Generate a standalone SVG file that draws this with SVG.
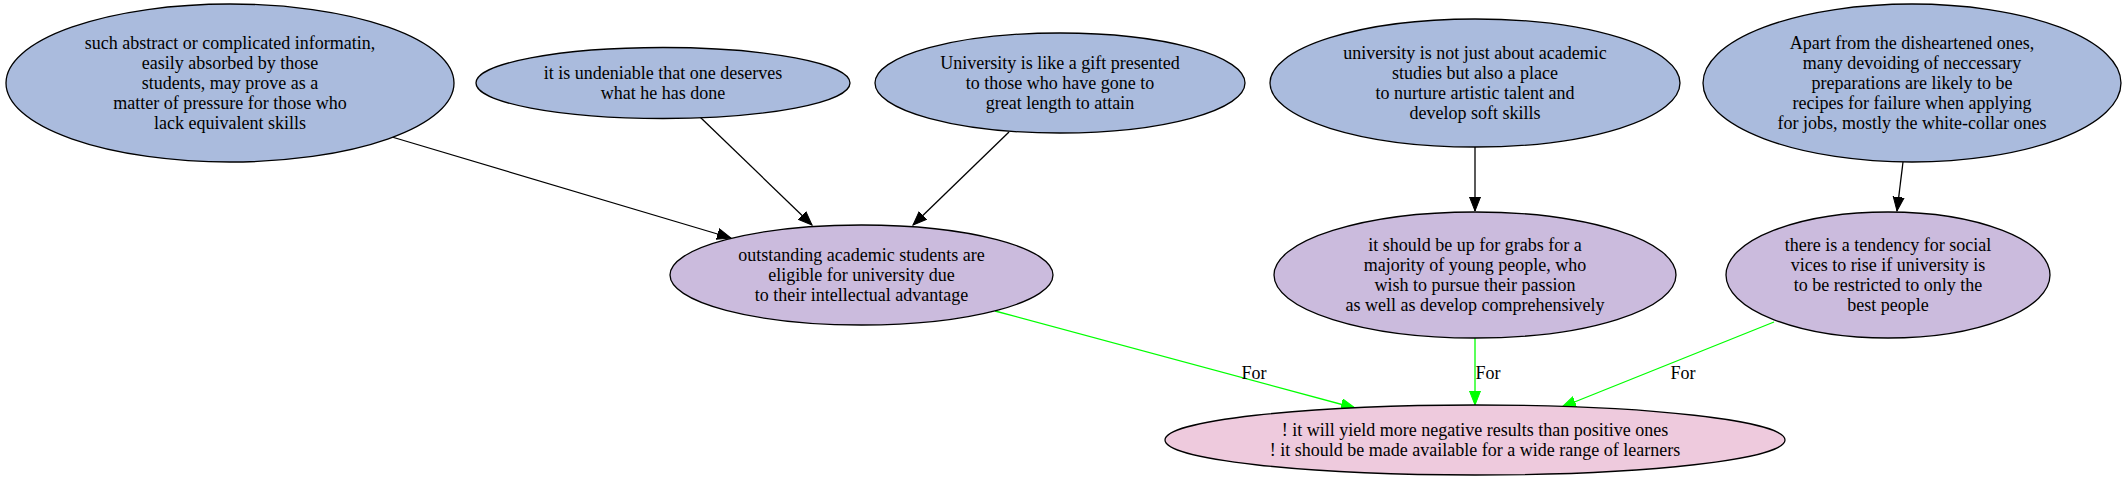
<svg xmlns="http://www.w3.org/2000/svg" width="2126" height="484" viewBox="0 0 2126 484">
<style>
  .n ellipse { stroke: #000; stroke-width: 1.3; }
  .top ellipse { fill: #aabbdd; }
  .mid ellipse { fill: #cbbbdd; }
  .bot ellipse { fill: #eecadd; }
  text { font-family: "Liberation Serif", "Times New Roman", serif; font-size: 18px; fill: #000; text-anchor: middle; }
  .e { fill: none; stroke-width: 1.3; }
  .blk { stroke: #000; }
  .grn { stroke: #00ff00; }
</style>
<defs>
  <marker id="ab" markerUnits="userSpaceOnUse" markerWidth="16" markerHeight="14" refX="14" refY="6" orient="auto">
    <path d="M0,0.5 L14,6 L0,11.5 Z" fill="#000" stroke="#000" stroke-width="1"/>
  </marker>
  <marker id="ag" markerUnits="userSpaceOnUse" markerWidth="16" markerHeight="14" refX="14" refY="6" orient="auto">
    <path d="M0,0.5 L14,6 L0,11.5 Z" fill="#00ff00" stroke="#00ff00" stroke-width="1"/>
  </marker>
</defs>
<rect width="2126" height="484" fill="#fff"/>

<g id="connectors">
  <path class="e blk" d="M392,137 L731,238" marker-end="url(#ab)"/>
  <path class="e blk" d="M700,117 L812,225" marker-end="url(#ab)"/>
  <path class="e blk" d="M1009,132 L913,225" marker-end="url(#ab)"/>
  <path class="e blk" d="M1475,147 L1475,211" marker-end="url(#ab)"/>
  <path class="e blk" d="M1903,162 L1897,211" marker-end="url(#ab)"/>
  <path class="e grn" d="M995,311 L1355,408" marker-end="url(#ag)"/>
  <path class="e grn" d="M1475,338 L1475,405" marker-end="url(#ag)"/>
  <path class="e grn" d="M1774,322 L1562,407" marker-end="url(#ag)"/>
  <text x="1254" y="379">For</text>
  <text x="1488" y="379">For</text>
  <text x="1683" y="379">For</text>
</g>

<g id="n1" class="n top">
  <ellipse cx="230" cy="83" rx="224" ry="79"/>
  <text x="230" y="49">such abstract or complicated informatin,</text>
  <text x="230" y="69">easily absorbed by those</text>
  <text x="230" y="89">students, may prove as a</text>
  <text x="230" y="109">matter of pressure for those who</text>
  <text x="230" y="129">lack equivalent skills</text>
</g>
<g id="n2" class="n top">
  <ellipse cx="663" cy="83" rx="187" ry="35.5"/>
  <text x="663" y="79">it is undeniable that one deserves</text>
  <text x="663" y="99">what he has done</text>
</g>
<g id="n3" class="n top">
  <ellipse cx="1060" cy="83" rx="185" ry="50"/>
  <text x="1060" y="69">University is like a gift presented</text>
  <text x="1060" y="89">to those who have gone to</text>
  <text x="1060" y="109">great length to attain</text>
</g>
<g id="n4" class="n top">
  <ellipse cx="1475" cy="83" rx="205" ry="64"/>
  <text x="1475" y="59">university is not just about academic</text>
  <text x="1475" y="79">studies but also a place</text>
  <text x="1475" y="99">to nurture artistic talent and</text>
  <text x="1475" y="119">develop soft skills</text>
</g>
<g id="n5" class="n top">
  <ellipse cx="1912" cy="83" rx="209" ry="79"/>
  <text x="1912" y="49">Apart from the disheartened ones,</text>
  <text x="1912" y="69">many devoiding of neccessary</text>
  <text x="1912" y="89">preparations are likely to be</text>
  <text x="1912" y="109">recipes for failure when applying</text>
  <text x="1912" y="129">for jobs, mostly the white-collar ones</text>
</g>
<g id="n6" class="n mid">
  <ellipse cx="861.5" cy="275" rx="191.5" ry="50"/>
  <text x="861.5" y="261">outstanding academic students are</text>
  <text x="861.5" y="281">eligible for university due</text>
  <text x="861.5" y="301">to their intellectual advantage</text>
</g>
<g id="n7" class="n mid">
  <ellipse cx="1475" cy="275" rx="201" ry="63"/>
  <text x="1475" y="251">it should be up for grabs for a</text>
  <text x="1475" y="271">majority of young people, who</text>
  <text x="1475" y="291">wish to pursue their passion</text>
  <text x="1475" y="311">as well as develop comprehensively</text>
</g>
<g id="n8" class="n mid">
  <ellipse cx="1888" cy="275" rx="162" ry="63"/>
  <text x="1888" y="251">there is a tendency for social</text>
  <text x="1888" y="271">vices to rise if university is</text>
  <text x="1888" y="291">to be restricted to only the</text>
  <text x="1888" y="311">best people</text>
</g>
<g id="n9" class="n bot">
  <ellipse cx="1475" cy="440" rx="310" ry="35"/>
  <text x="1475" y="436">! it will yield more negative results than positive ones</text>
  <text x="1475" y="456">! it should be made available for a wide range of learners</text>
</g>
</svg>
